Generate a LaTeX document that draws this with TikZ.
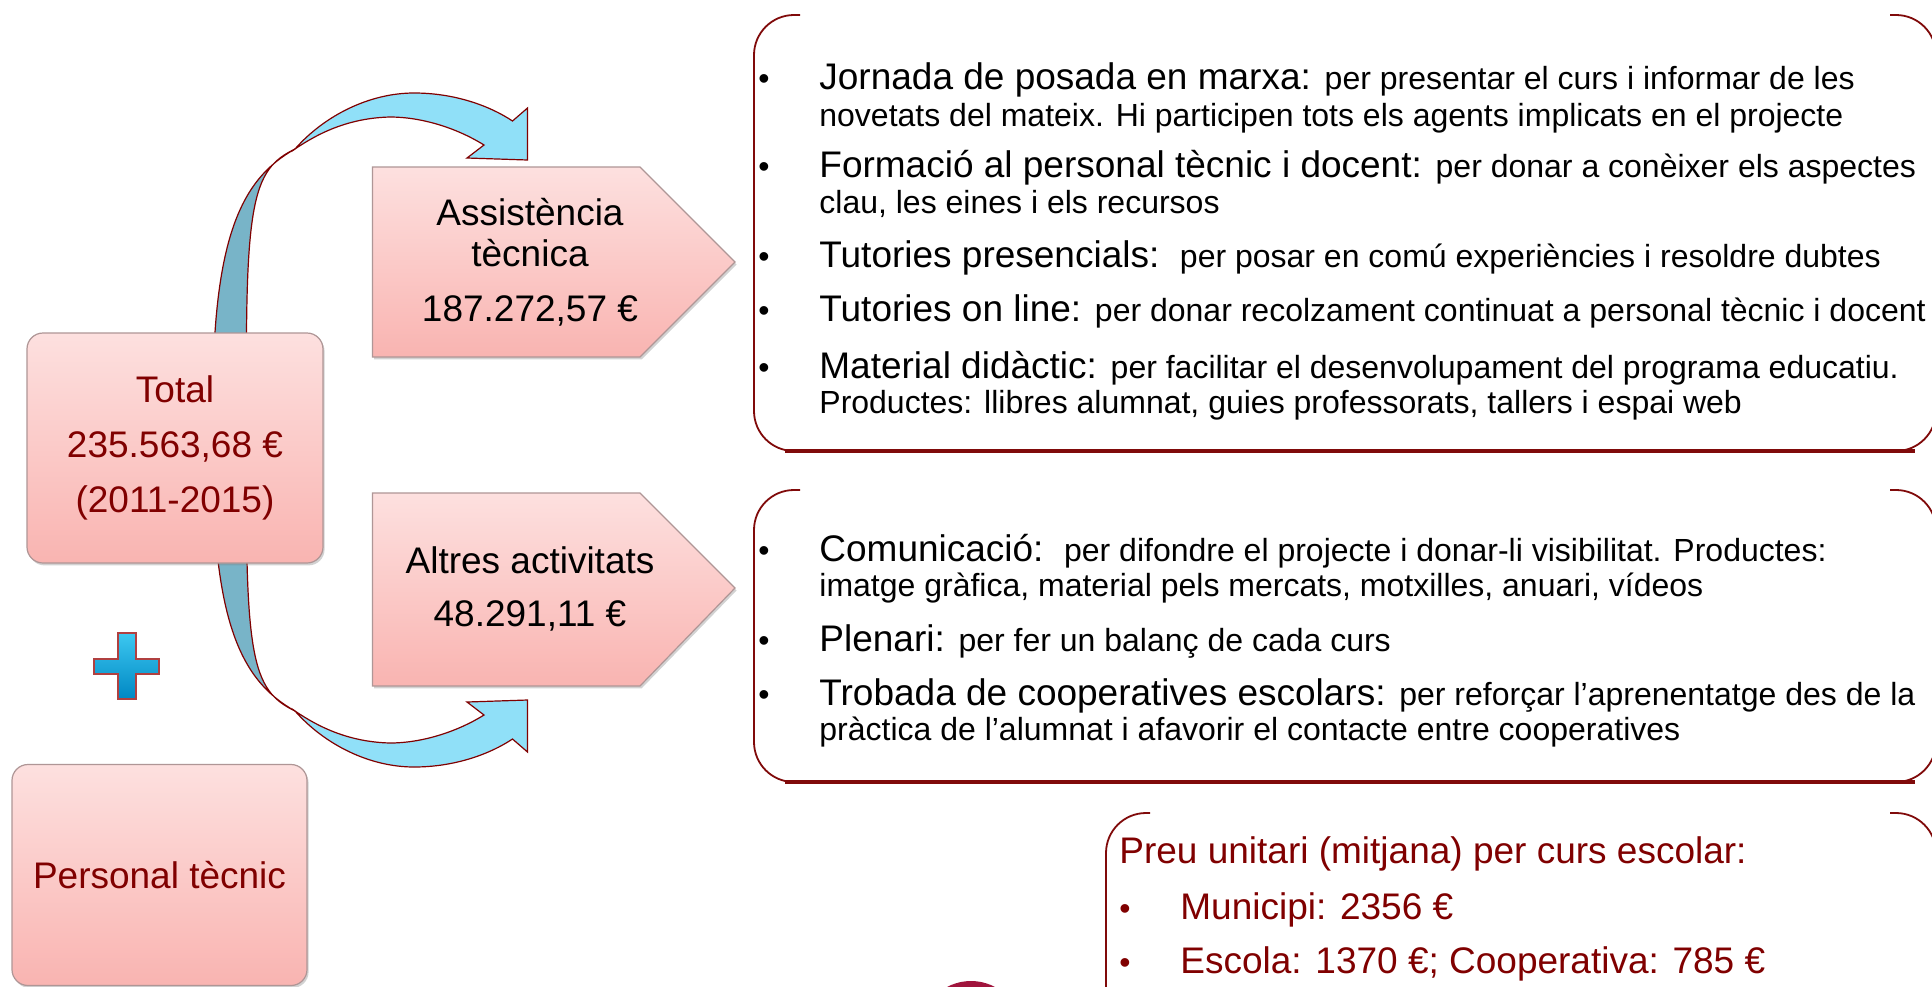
\documentclass[tikz,border=0pt]{standalone}
\usepackage{fontspec}
\setmainfont{Liberation Sans}
\usetikzlibrary{shadows}
\definecolor{maroonT}{RGB}{128,0,0}
\definecolor{frameR}{RGB}{128,10,10}
\definecolor{pinkTop}{RGB}{253,224,223}
\definecolor{pinkBot}{RGB}{249,180,177}
\definecolor{boxEdge}{RGB}{175,150,150}
\definecolor{arrLight}{RGB}{144,224,248}
\definecolor{arrDark}{RGB}{120,180,200}
\definecolor{arrEdge}{RGB}{128,0,0}
\definecolor{plusTop}{RGB}{60,200,240}
\definecolor{plusBot}{RGB}{0,135,195}
\definecolor{plusEdge}{RGB}{176,64,64}
\definecolor{dotRed}{RGB}{160,20,60}
\newcommand{\HdSize}{\fontsize{18.5}{22}\selectfont}
\newcommand{\BdSize}{\fontsize{16}{19}\selectfont}
\begin{document}
\begin{tikzpicture}[x=0.5pt,y=-0.5pt,
  pinkfill/.style={draw=boxEdge, line width=0.6pt, top color=pinkTop, bottom color=pinkBot,
    drop shadow={shadow xshift=0.8pt, shadow yshift=-1.2pt, opacity=0.35}},
  pinkrect/.style={pinkfill, rounded corners=8pt, inner sep=0pt},
  bigtxt/.style={align=center, inner sep=0pt},
  arrdark/.style={fill=arrDark, draw=arrEdge, line width=0.6pt, line join=round},
  arrlight/.style={fill=arrLight, draw=arrEdge, line width=0.6pt, line join=miter},
  bracketline/.style={draw=frameR, line width=0.9pt, rounded corners=20pt},
  baseline/.style={draw=frameR, line width=1.6pt},
  ln/.style={anchor=base west, inner sep=0pt},
  bul/.style={anchor=base, inner sep=0pt, font=\BdSize},
  pr/.style={anchor=base west, inner sep=0pt, font=\HdSize, text=maroonT},
  prbul/.style={anchor=base, inner sep=0pt, font=\BdSize, text=maroonT}]
\useasboundingbox (0,0) rectangle (1932,986);
\fill[white] (0,0) rectangle (1932,986);

% curved arrows (top and mirrored bottom)
\foreach \sh/\sc in {0/1, 860/-1}{
\begin{scope}[shift={(0,\sh)}, yscale=\sc]
  \path[arrdark] (295,149) .. controls (240,180) and (210,240) .. (213,430)
     -- (247,430) .. controls (244,200) and (252,170) .. (295,149) -- cycle;
  \path[arrlight] (295,149) .. controls (325,115) and (370,93) .. (414,93)
     .. controls (455,93) and (490,106) .. (512.5,121) -- (527.5,108) -- (527.5,160)
     -- (467,158) -- (484,145) .. controls (455,127) and (420,117) .. (390,117)
     .. controls (350,118) and (320,132) .. (295,149) -- cycle;
\end{scope}}

% left boxes
\node[pinkrect, minimum width=148pt, minimum height=115pt, bigtxt, text=maroonT,
  font=\fontsize{18.5}{27.5}\selectfont] (total) at (175,448)
  {Total\\235.563,68 €\\(2011-2015)};
\node[pinkrect, minimum width=147.5pt, minimum height=110.5pt, bigtxt, text=maroonT,
  font=\HdSize] (pers) at (159.5,875) {Personal tècnic};

% plus sign
\path[draw=plusEdge, line width=1pt, top color=plusTop, bottom color=plusBot]
  (118,633) -- (136,633) -- (136,659) -- (159,659) -- (159,674) -- (136,674)
  -- (136,699) -- (118,699) -- (118,674) -- (94,674) -- (94,659) -- (118,659) -- cycle;

% pentagon boxes
\path[pinkfill] (372.5,167) -- (640,167) -- (735,262) -- (640,357) -- (372.5,357) -- cycle;
\node[bigtxt, font=\fontsize{18.5}{20.5}\selectfont] (ast) at (530,262)
  {Assistència\\tècnica\\[7pt]187.272,57 €};
\path[pinkfill] (372.5,493) -- (640,493) -- (735,588) -- (640,686) -- (372.5,686) -- cycle;
\node[bigtxt, font=\fontsize{18.5}{26.5}\selectfont] (alt) at (530,589)
  {Altres activitats\\48.291,11 €};

% top right box
\draw[bracketline] (800,15) -- (754,15) -- (754,451) -- (800,451);
\draw[bracketline] (1890,15) -- (1936,15) -- (1936,451) -- (1890,451);
\draw[baseline] (785,451) -- (1915,451);
\node[bul] (b1) at (764,89) {•};
\node[bul] (b2) at (764,177) {•};
\node[bul] (b3) at (764,267) {•};
\node[bul] (b4) at (764,321) {•};
\node[bul] (b5) at (764,378) {•};
\node[ln] (t1) at (819,89) {\HdSize Jornada de posada en marxa: \BdSize per presentar el curs i informar de les};
\node[ln] (t2) at (819,126.5) {\BdSize novetats del mateix. Hi participen tots els agents implicats en el projecte};
\node[ln] (t3) at (819,177) {\HdSize Formació al personal tècnic i docent: \BdSize per donar a conèixer els aspectes};
\node[ln] (t4) at (819,213.5) {\BdSize clau, les eines i els recursos};
\node[ln] (t5) at (819,267) {\HdSize Tutories presencials:\ \ \BdSize per posar en comú experiències i resoldre dubtes};
\node[ln] (t6) at (819,321) {\HdSize Tutories on line: \BdSize per donar recolzament continuat a personal tècnic i docent};
\node[ln] (t7) at (819,378) {\HdSize Material didàctic: \BdSize per facilitar el desenvolupament del programa educatiu.};
\node[ln] (t8) at (819,413.5) {\BdSize Productes: llibres alumnat, guies professorats, tallers i espai web};

% bottom right box
\draw[bracketline] (800,490) -- (754,490) -- (754,782) -- (800,782);
\draw[bracketline] (1890,490) -- (1936,490) -- (1936,782) -- (1890,782);
\draw[baseline] (785,782) -- (1915,782);
\node[bul] (c1) at (764,561) {•};
\node[bul] (c2) at (764,651) {•};
\node[bul] (c3) at (764,705) {•};
\node[ln] (u1) at (819,561) {\HdSize Comunicació:\ \ \BdSize per difondre el projecte i donar-li visibilitat. Productes:};
\node[ln] (u2) at (819,596.5) {\BdSize imatge gràfica, material pels mercats, motxilles, anuari, vídeos};
\node[ln] (u3) at (819,651) {\HdSize Plenari: \BdSize per fer un balanç de cada curs};
\node[ln] (u4) at (819,705) {\HdSize Trobada de cooperatives escolars: \BdSize per reforçar l’aprenentatge des de la};
\node[ln] (u5) at (819,740.5) {\BdSize pràctica de l’alumnat i afavorir el contacte entre cooperatives};

% price box
\draw[bracketline] (1150,813) -- (1106,813) -- (1106,1060);
\draw[bracketline] (1890,813) -- (1936,813) -- (1936,1060);
\node[pr] (p1) at (1119,863) {Preu unitari (mitjana) per curs escolar:};
\node[prbul] (pb2) at (1125,919) {•};
\node[prbul] (pb3) at (1125,973) {•};
\node[pr] (p2) at (1180,919) {Municipi: 2356 €};
\node[pr] (p3) at (1180,973) {Escola: 1370 €; Cooperativa: 785 €};

% partial dot at bottom
\node[circle, fill=dotRed, minimum size=51pt, inner sep=0pt] (dot) at (971,1032) {};
\end{tikzpicture}
\end{document}
